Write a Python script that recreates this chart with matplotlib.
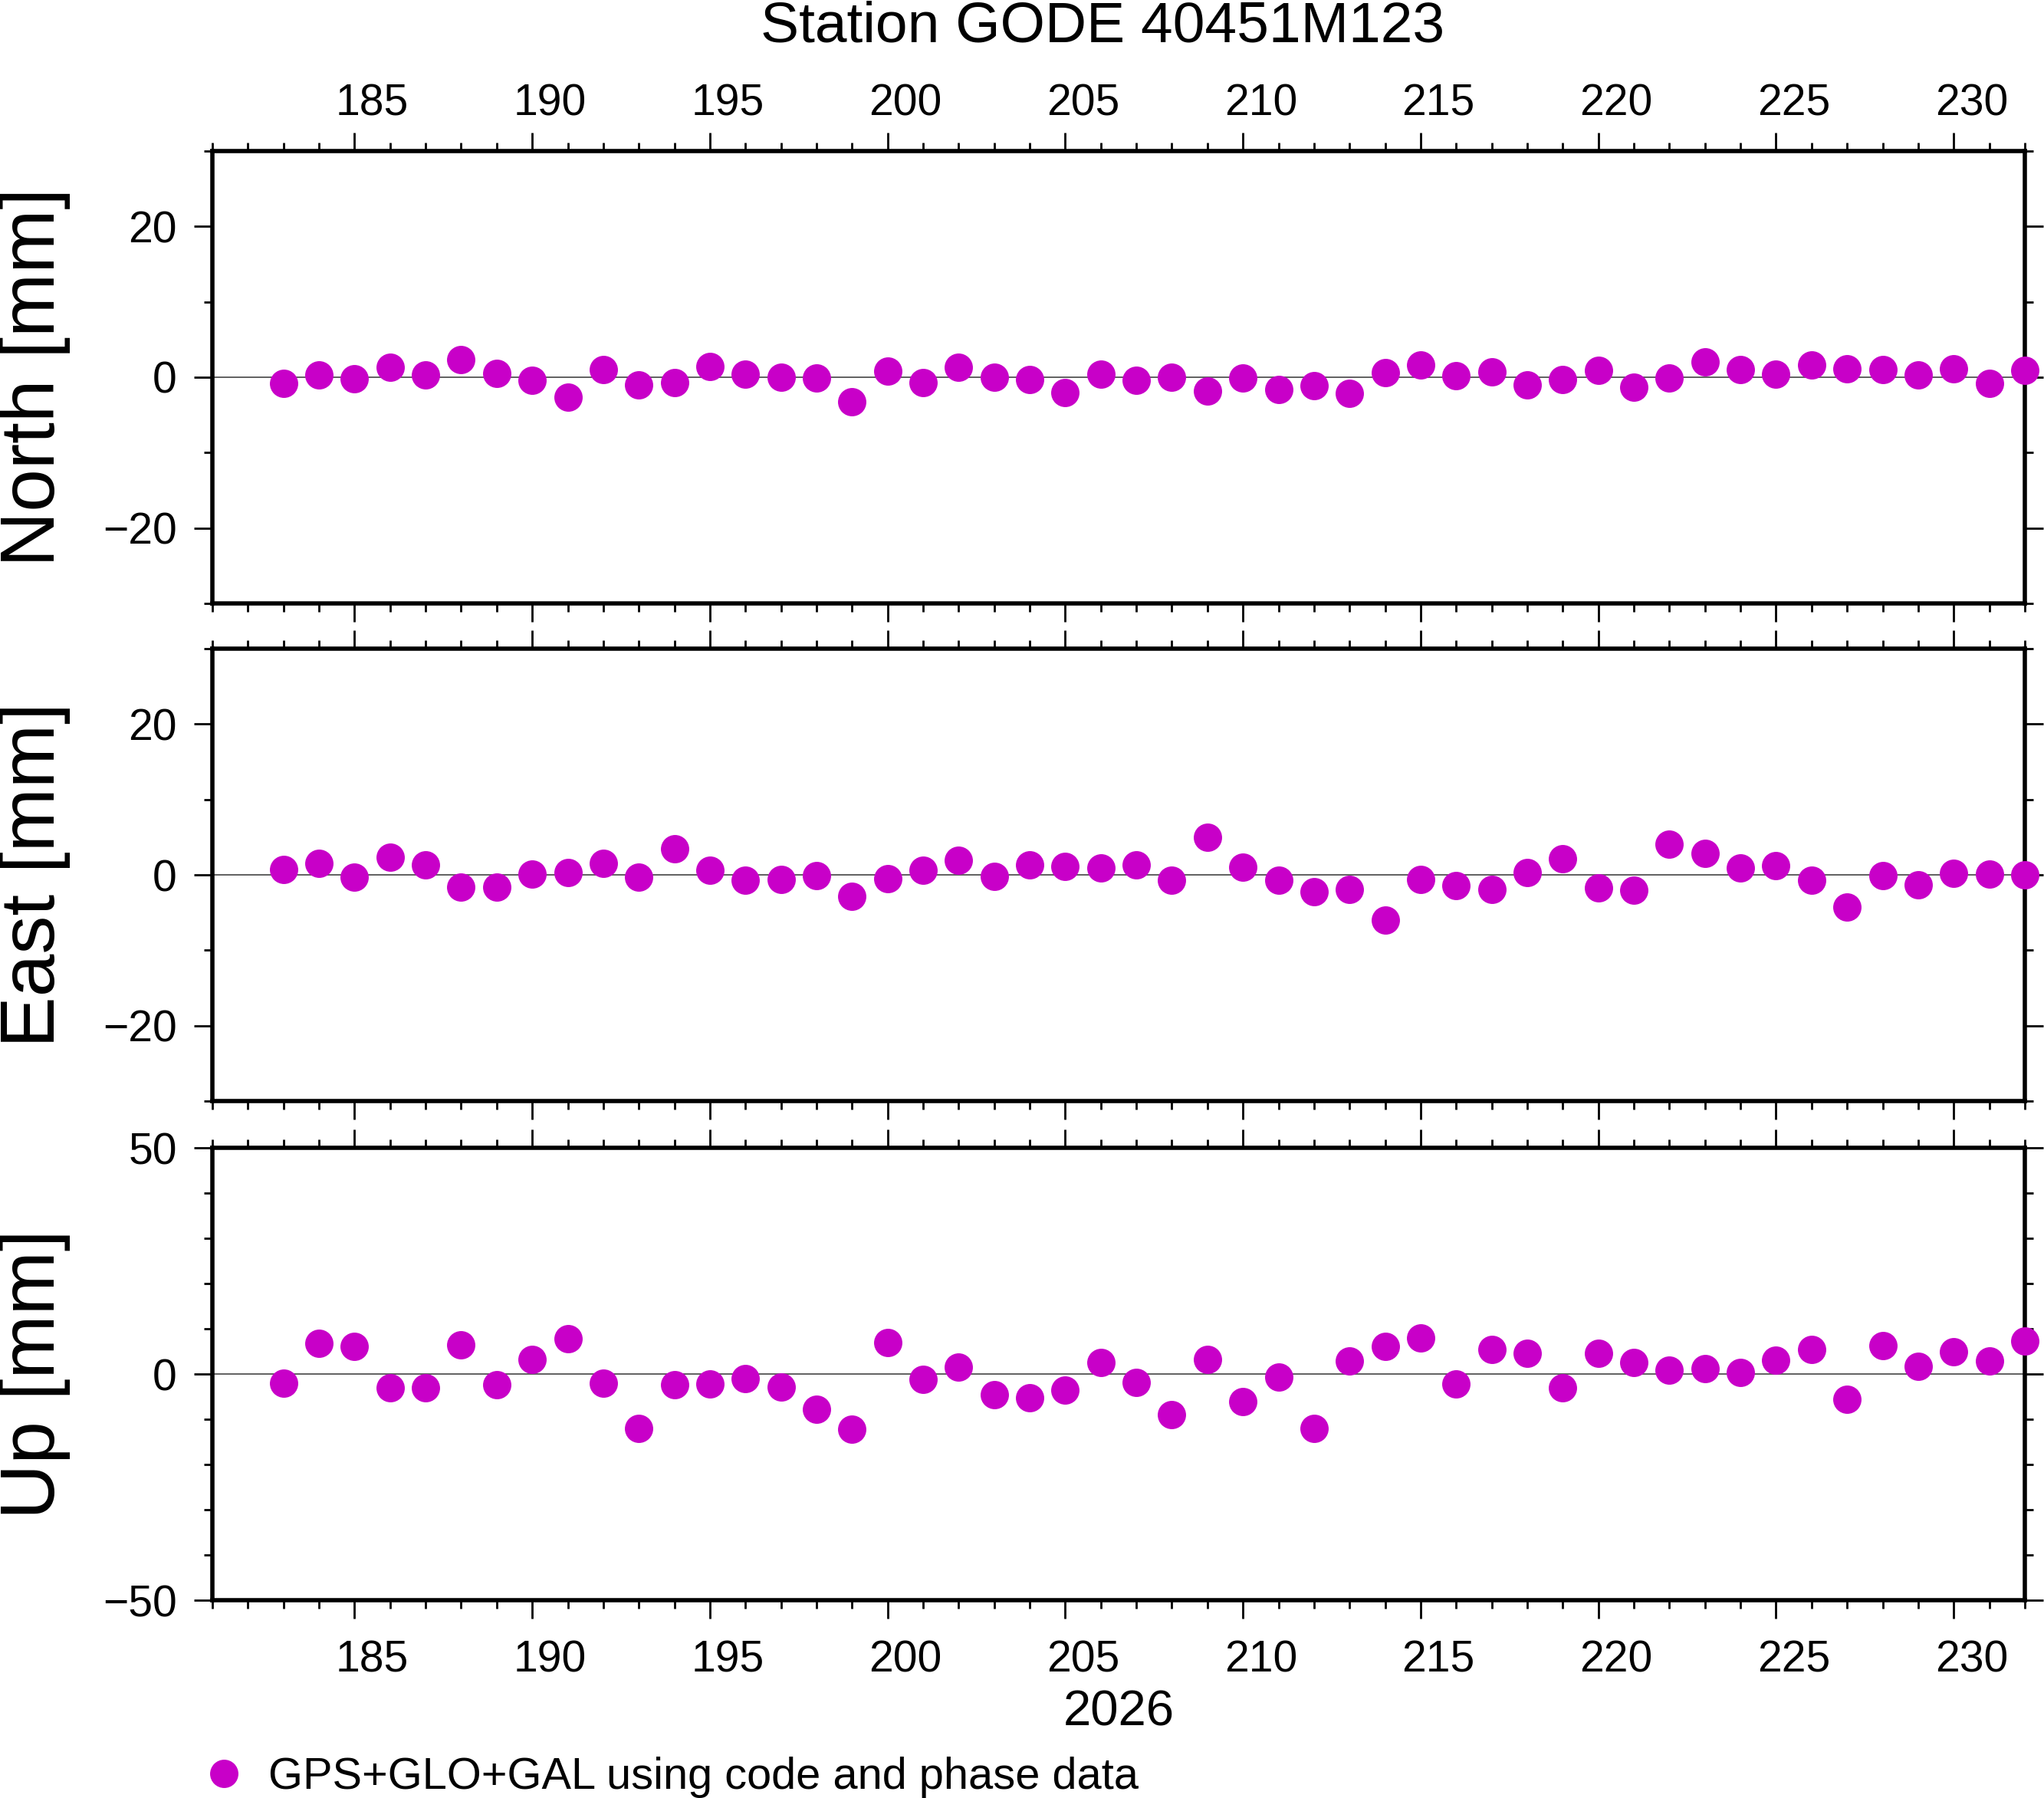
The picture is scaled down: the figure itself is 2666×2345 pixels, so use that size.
import matplotlib
matplotlib.use("Agg")
import matplotlib.pyplot as plt
import matplotlib.transforms as mtransforms
import numpy as np
from matplotlib.ticker import MultipleLocator

plt.rcParams['font.family'] = ['Liberation Sans', 'DejaVu Sans']

# ---- data ----
days = list(range(183, 233))
north = [-0.8, 0.3, -0.2, 1.3, 0.3, 2.3, 0.5, -0.4, -2.6, 1.0, -1.0, -0.7, 1.4, 0.4, 0.0, -0.1,
         -3.3, 0.8, -0.7, 1.3, 0.0, -0.3, -2.0, 0.4,
         -0.4, 0.0, -1.8, -0.1, -1.6, -1.1, -2.1, 0.6, 1.6, 0.2, 0.7, -1.0, -0.3, 0.9, -1.3, -0.1,
         2.0, 1.0, 0.4, 1.6, 1.1, 1.0, 0.3, 1.1, -0.8, 0.9]
east = [0.7, 1.5, -0.3, 2.3, 1.3, -1.6, -1.6, 0.1, 0.3, 1.5, -0.3, 3.5, 0.6, -0.7, -0.6, -0.1,
        -2.8, -0.5, 0.6, 1.9, -0.2, 1.3, 1.1, 0.9,
        1.3, -0.7, 5.0, 1.0, -0.7, -2.2, -1.9, -6.0, -0.6, -1.4, -1.9, 0.3, 2.1, -1.7, -2.0, 4.1,
        2.9, 0.9, 1.2, -0.7, -4.3, -0.1, -1.3, 0.2, 0.1, 0.0]
up = [-2.0, 6.8, 6.1, -3.0, -3.0, 6.4, -2.4, 3.2, 7.8, -2.0, -12.0, -2.4, -2.2, -1.0, -2.9, -7.8,
      -12.2, 6.9, -1.2, 1.5, -4.6, -5.3, -3.6, 2.5,
      -1.9, -9.0, 3.2, -6.1, -0.7, -12.1, 2.9, 6.1, 8.0, -2.2, 5.4, 4.6, -3.0, 4.6, 2.5, 0.8,
      1.2, 0.3, 3.1, 5.4, -5.6, 6.3, 1.7, 4.9, 2.9, 7.3]

panel_labels = ["North [mm]", "East [mm]", "Up [mm]"]
panel_ylims = [(-30, 30), (-30, 30), (-50, 50)]
panel_major = [20, 20, 50]
title = "Station GODE 40451M123"
year_label = "2026"
legend_label = "GPS+GLO+GAL using code and phase data"
xlim = (181, 232)

color = "#C800C8"

fig = plt.figure(figsize=(13.33, 11.725), dpi=200)

left, width = 0.1039, 0.8867
bottoms = [0.6644, 0.3876, 0.1100]
height = 0.2516

series = [north, east, up]
axes = []
for i, (vals, lab, ylim, maj, b) in enumerate(zip(series, panel_labels, panel_ylims, panel_major, bottoms)):
    ax = fig.add_axes([left, b, width, height])
    axes.append(ax)
    ax.axhline(0, color="#444444", lw=0.6, zorder=1)
    line, = ax.plot(days, vals, 'o', color=color, markersize=13.3, markeredgewidth=0,
                    clip_on=False, zorder=5, label=legend_label)
    ax.set_xlim(*xlim)
    ax.set_ylim(*ylim)
    ax.xaxis.set_major_locator(MultipleLocator(5))
    ax.xaxis.set_minor_locator(MultipleLocator(1))
    ax.yaxis.set_major_locator(MultipleLocator(maj))
    ax.yaxis.set_minor_locator(MultipleLocator(10))
    for s in ax.spines.values():
        s.set_linewidth(2.0)
    ax.tick_params(which='both', direction='out', top=True, bottom=True, left=True, right=True,
                   width=1.0, labelsize=20.5)
    ax.tick_params(which='major', length=8.6)
    ax.tick_params(which='minor', length=4.0)
    ax.tick_params(axis='y', pad=8)
    if i == 0:
        ax.tick_params(axis='x', pad=3.7, labeltop=True, labelbottom=False)
    elif i == 2:
        ax.tick_params(axis='x', pad=9.8, labeltop=False, labelbottom=True)
    else:
        ax.tick_params(axis='x', labeltop=False, labelbottom=False)
    ax.set_ylabel(lab, fontsize=36)
    ax.yaxis.set_label_coords(-0.098, 0.5)
    ax.yaxis.label.set_verticalalignment('center')
    if i == 2:
        ax.set_xlabel(year_label, fontsize=23.5)
        ax.xaxis.set_label_coords(0.5, -0.249)
        ax.xaxis.label.set_verticalalignment('center')
        legend_handle = line

fig.text(0.5394, 0.985, title, ha='center', va='center', fontsize=27)

fig.legend(handles=[legend_handle], labels=[legend_label], loc='center left',
           bbox_to_anchor=(0.0987, 0.0115), frameon=False, fontsize=20.8,
           handlelength=1.0, handletextpad=0.5, borderpad=0, borderaxespad=0,
           markerscale=1.0)

# day labels are centred on the day interval (half a day to the right of the tick)
fig.canvas.draw()
for ax in axes:
    x0 = ax.transData.transform((xlim[0], 0))[0]
    x1 = ax.transData.transform((xlim[0] + 0.5, 0))[0]
    dx_in = (x1 - x0) / fig.dpi
    offset = mtransforms.ScaledTranslation(dx_in, 0, fig.dpi_scale_trans)
    for t in ax.xaxis.get_major_ticks():
        t.label1.set_transform(t.label1.get_transform() + offset)
        t.label2.set_transform(t.label2.get_transform() + offset)

fig.savefig("out.png", dpi=200)
